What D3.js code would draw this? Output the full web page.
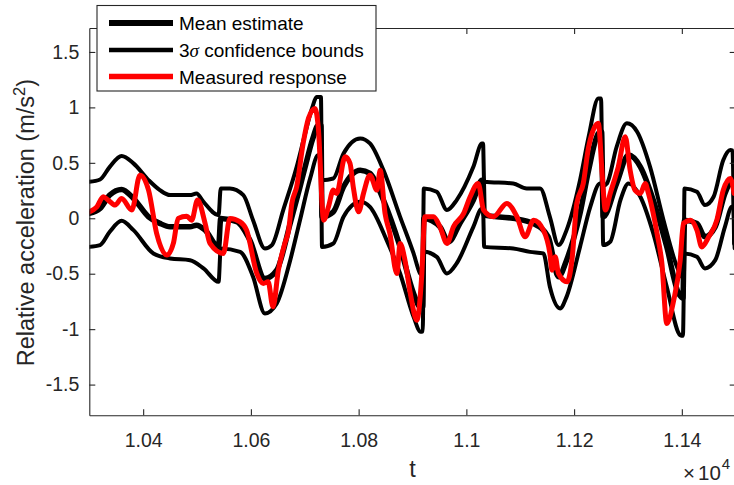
<!DOCTYPE html>
<html>
<head>
<meta charset="utf-8">
<script src="https://cdn.jsdelivr.net/npm/d3@7"></script>
<style>
  body { margin: 0; background: #fff; }
  svg { display: block; font-family: 'Liberation Sans', Arial, sans-serif; }
</style>
</head>
<body>
<svg id="chart" width="734" height="485"></svg>
<script>
//
// Data, [t, acceleration]
//

var meanPts = [
  [10300, 0.044], [10320, 0.089], [10338, 0.209], [10360, 0.260], [10382, 0.179],
  [10410, 0.013], [10431, -0.046], [10450, -0.077], [10487, -0.077], [10499, -0.062],
  [10515, -0.107], [10540, -0.258], [10544, -0.001], [10574, -0.032], [10598, -0.197],
  [10626, -0.543], [10648, -0.468], [10673, -0.046], [10691, 0.28], [10700, 0.45],
  [10715, 0.72], [10725, 0.84], [10730, 0.84], [10732, 0.013], [10753, 0.058],
  [10772, 0.284], [10803, 0.434], [10821, 0.405], [10846, 0.164], [10877, -0.258],
  [10902, -0.678], [10914, -0.799], [10919, -0.80], [10921, -0.001], [10951, -0.077],
  [10967, -0.212], [10988, -0.046], [11013, 0.164], [11029, 0.344], [11031, 0.344],
  [11033, 0.028], [11087, -0.001], [11124, -0.046], [11152, -0.167], [11171, -0.528],
  [11186, -0.378], [11211, 0.044], [11227, 0.434], [11245, 0.765], [11251, 0.78],
  [11254, 0.013], [11279, 0.314], [11301, 0.570], [11323, 0.464], [11347, 0.164],
  [11372, -0.258], [11394, -0.678], [11402, -0.72], [11405, -0.017], [11428, -0.046],
  [11443, -0.167], [11462, -0.077], [11480, 0.224], [11493, 0.344], [11496, 0.35],
  [11498, 0.0]
]

var upperPts = [
  [10300, 0.329], [10320, 0.350], [10338, 0.464], [10360, 0.561], [10382, 0.495],
  [10410, 0.344], [10431, 0.254], [10450, 0.209], [10487, 0.209], [10499, 0.224],
  [10512, 0.148], [10540, 0.028], [10544, 0.269], [10561, 0.269], [10586, 0.209],
  [10604, -0.017], [10626, -0.272], [10639, -0.242], [10660, 0.074], [10685, 0.464],
  [10700, 0.75], [10714, 1.0], [10722, 1.093], [10730, 1.093], [10732, 0.344],
  [10753, 0.359], [10772, 0.585], [10803, 0.720], [10821, 0.675], [10846, 0.434],
  [10877, 0.013], [10902, -0.317], [10914, -0.498], [10919, -0.52], [10921, 0.269],
  [10945, 0.239], [10964, 0.074], [10982, 0.164], [11013, 0.464], [11029, 0.675],
  [11031, 0.675], [11033, 0.329], [11087, 0.314], [11112, 0.269], [11137, 0.269],
  [11155, 0.013], [11171, -0.242], [11186, -0.107], [11211, 0.344], [11227, 0.735],
  [11245, 1.081], [11250, 1.08], [11253, 0.29], [11261, 0.314], [11279, 0.645],
  [11298, 0.856], [11317, 0.780], [11341, 0.464], [11366, -0.017], [11391, -0.438],
  [11400, -0.528], [11403, -0.53], [11405, 0.269], [11428, 0.239], [11443, 0.119],
  [11459, 0.194], [11477, 0.525], [11490, 0.615], [11494, 0.61], [11497, -0.23]
]

var lowerPts = [
  [10300, -0.258], [10320, -0.242], [10338, -0.122], [10360, -0.023], [10382, -0.107],
  [10419, -0.317], [10450, -0.362], [10487, -0.378], [10512, -0.452], [10540, -0.573],
  [10544, -0.272], [10580, -0.303], [10604, -0.528], [10626, -0.858], [10648, -0.768],
  [10673, -0.378], [10691, -0.02], [10710, 0.36], [10725, 0.57], [10730, 0.57],
  [10732, -0.258], [10753, -0.227], [10772, 0.013], [10803, 0.148], [10821, 0.103],
  [10852, -0.197], [10877, -0.498], [10902, -0.889], [10915, -1.024], [10919, -1.02],
  [10921, -0.303], [10945, -0.348], [10964, -0.498], [10982, -0.407], [11013, -0.077],
  [11029, 0.089], [11031, 0.089], [11033, -0.258], [11087, -0.272], [11118, -0.303],
  [11143, -0.317], [11155, -0.618], [11174, -0.813], [11186, -0.709], [11211, -0.258],
  [11230, 0.103], [11248, 0.314], [11252, 0.31], [11254, -0.242], [11267, -0.212],
  [11286, 0.164], [11301, 0.314], [11323, 0.194], [11347, -0.137], [11372, -0.618],
  [11397, -1.054], [11402, -1.06], [11405, -0.317], [11428, -0.348], [11443, -0.452],
  [11462, -0.378], [11480, -0.077], [11493, 0.103], [11496, 0.10], [11498, -0.27]
]

var measuredPts = [
  [10300, 0.058], [10314, 0.103], [10326, 0.194], [10335, 0.164], [10348, 0.119],
  [10360, 0.179], [10379, 0.074], [10394, 0.389], [10410, 0.254], [10425, -0.137],
  [10444, -0.332], [10456, -0.227], [10465, -0.001], [10481, 0.019], [10490, -0.017],
  [10501, 0.164], [10515, -0.046], [10524, -0.227], [10549, -0.317], [10561, -0.001],
  [10580, -0.032], [10592, -0.107], [10611, -0.498], [10623, -0.588], [10632, -0.573],
  [10641, -0.799], [10651, -0.468], [10663, -0.227], [10670, -0.107], [10676, 0.134],
  [10685, 0.284], [10697, 0.675], [10707, 0.903], [10719, 0.991], [10725, 0.825],
  [10735, -0.017], [10744, 0.103], [10753, 0.254], [10759, 0.224], [10775, 0.554],
  [10784, 0.495], [10790, 0.284], [10800, 0.058], [10809, 0.224], [10821, 0.389],
  [10834, 0.254], [10840, 0.434], [10849, 0.044], [10858, -0.137], [10871, -0.498],
  [10877, -0.227], [10886, -0.378], [10896, -0.678], [10908, -0.919], [10917, -0.528],
  [10923, 0.013], [10939, 0.013], [10951, -0.077], [10964, -0.227], [10976, -0.077],
  [10995, 0.044], [11007, 0.194], [11022, 0.314], [11032, 0.074], [11050, 0.013],
  [11075, 0.134], [11094, 0.013], [11109, -0.167], [11125, -0.017], [11143, -0.107],
  [11155, -0.317], [11159, -0.468], [11165, -0.348], [11171, -0.498], [11187, -0.573],
  [11196, -0.378], [11205, 0.134], [11217, 0.314], [11227, 0.645], [11245, 0.856],
  [11252, 0.405], [11258, 0.074], [11267, 0.224], [11282, 0.464], [11295, 0.735],
  [11304, 0.434], [11313, 0.254], [11323, 0.224], [11332, 0.314], [11338, 0.224],
  [11354, -0.137], [11363, -0.407], [11372, -0.948], [11385, -0.738], [11397, -0.378],
  [11403, -0.046], [11416, -0.017], [11428, -0.107], [11437, -0.258], [11450, -0.167],
  [11465, -0.017], [11477, 0.254], [11490, 0.359], [11497, 0.224]
]

// ticks
var xTicks = [10400, 10600, 10800, 11000, 11200, 11400]
var xTickLabels = ['1.04', '1.06', '1.08', '1.1', '1.12', '1.14']
var yTicks = [-1.5, -1, -0.5, 0, 0.5, 1, 1.5]
var yTickLabels = ['-1.5', '-1', '-0.5', '0', '0.5', '1', '1.5']

var legendNames = ['Mean estimate', '3\u03c3 confidence bounds', 'Measured response']

//
// Setup
//

var axisColor = '#262626'
var fontSize = 19.5
var labelSize = 23.5
var svg = d3.select('#chart')
// plot box in pixels (right edge sits just past the window)
var box = { left: 89.3, right: 735.7, top: 28, bottom: 415.3 }

var x = d3.scaleLinear().domain([10300, 11500]).range([box.left, box.right])
var y = d3.scaleLinear().domain([-1.777, 1.716]).range([box.bottom, box.top])

svg.append('defs').append('clipPath').attr('id', 'plot-clip')
  .append('rect')
  .attr('x', box.left).attr('y', box.top)
  .attr('width', box.right - box.left).attr('height', box.bottom - box.top)

var line = d3.line()
  .x(function(d) { return x(d[0]) })
  .y(function(d) { return y(d[1]) })
  .curve(d3.curveMonotoneX)

//
// Curves
//

var plot = svg.append('g').attr('clip-path', 'url(#plot-clip)')

function drawLine(pts, color, w) {
  plot.append('path')
    .datum(pts)
    .attr('d', line)
    .attr('fill', 'none')
    .attr('stroke', color)
    .attr('stroke-width', w)
    .attr('stroke-linejoin', 'round')
    .attr('stroke-linecap', 'round')
}

drawLine(meanPts, '#000', 5.5)
drawLine(upperPts, '#000', 4)
drawLine(lowerPts, '#000', 4)
drawLine(measuredPts, '#ff0000', 5)

//
// Axes (MATLAB style box, ticks pointing in)
//

function styleAxis(g) {
  g.selectAll('path.domain').attr('stroke', axisColor).attr('stroke-width', 1.1)
  g.selectAll('.tick line').attr('stroke', axisColor).attr('stroke-width', 1.1)
  g.selectAll('.tick text')
    .attr('fill', axisColor)
    .style('font-size', fontSize + 'px')
    .style('font-family', "'Liberation Sans', Arial, sans-serif")
}

var xAxis = svg.append('g')
  .attr('transform', 'translate(0,' + box.bottom + ')')
  .call(d3.axisBottom(x).tickValues(xTicks)
    .tickFormat(function(d, i) { return xTickLabels[i] })
    .tickSizeInner(-6).tickSizeOuter(0).tickPadding(17.5))
styleAxis(xAxis)

var xAxisTop = svg.append('g')
  .attr('transform', 'translate(0,' + box.top + ')')
  .call(d3.axisTop(x).tickValues(xTicks).tickFormat('')
    .tickSizeInner(-6).tickSizeOuter(0))
styleAxis(xAxisTop)

var yAxis = svg.append('g')
  .attr('transform', 'translate(' + box.left + ',0)')
  .call(d3.axisLeft(y).tickValues(yTicks)
    .tickFormat(function(d, i) { return yTickLabels[i] })
    .tickSizeInner(-6).tickSizeOuter(0).tickPadding(10))
styleAxis(yAxis)

var yAxisRight = svg.append('g')
  .attr('transform', 'translate(' + box.right + ',0)')
  .call(d3.axisRight(y).tickValues(yTicks).tickFormat('')
    .tickSizeInner(-6).tickSizeOuter(0))
styleAxis(yAxisRight)

// axis labels
svg.append('text')
  .attr('x', (box.left + box.right) / 2)
  .attr('y', 477)
  .attr('text-anchor', 'middle')
  .attr('fill', axisColor)
  .style('font-size', labelSize + 'px')
  .text('t')

var exp = svg.append('text')
  .attr('x', 683)
  .attr('y', 480)
  .attr('fill', axisColor)
  .style('font-size', '20.5px')
exp.append('tspan').text('\u00d7')
exp.append('tspan').attr('dx', 3).text('10')
exp.append('tspan').attr('dx', 1).attr('dy', -11).style('font-size', '15px').text('4')

var yl = svg.append('text')
  .attr('transform', 'translate(34,' + ((box.top + box.bottom) / 2 + 1) + ') rotate(-90)')
  .attr('text-anchor', 'middle')
  .attr('fill', axisColor)
  .style('font-size', labelSize + 'px')
yl.append('tspan').text('Relative acceleration (m/s')
yl.append('tspan').attr('dy', -9).style('font-size', '16.5px').text('2')
yl.append('tspan').attr('dy', 9).text(')')

//
// Legend
//

var legend = svg.append('g')
legend.append('rect')
  .attr('x', 97).attr('y', 5.5)
  .attr('width', 279).attr('height', 85.5)
  .attr('fill', '#fff')
  .attr('stroke', axisColor)
  .attr('stroke-width', 1.1)

var legendColors = ['#000', '#000', '#ff0000']
var legendWidths = [6, 4.5, 5.5]
var legendRows = [23, 50, 76.5]

legendNames.forEach(function(name, i) {
  legend.append('line')
    .attr('x1', 109).attr('x2', 173)
    .attr('y1', legendRows[i]).attr('y2', legendRows[i])
    .attr('stroke', legendColors[i])
    .attr('stroke-width', legendWidths[i])
  var t = legend.append('text')
    .attr('x', 179)
    .attr('y', legendRows[i] + 7.3)
    .attr('fill', '#000')
    .style('font-size', '19px')
  if (i === 1) {
    t.append('tspan').text('3')
    t.append('tspan').style('font-style', 'italic').style('font-family', "'Liberation Serif', serif").text('\u03c3')
    t.append('tspan').text(' confidence bounds')
  } else {
    t.text(name)
  }
})
</script>
</body>
</html>
